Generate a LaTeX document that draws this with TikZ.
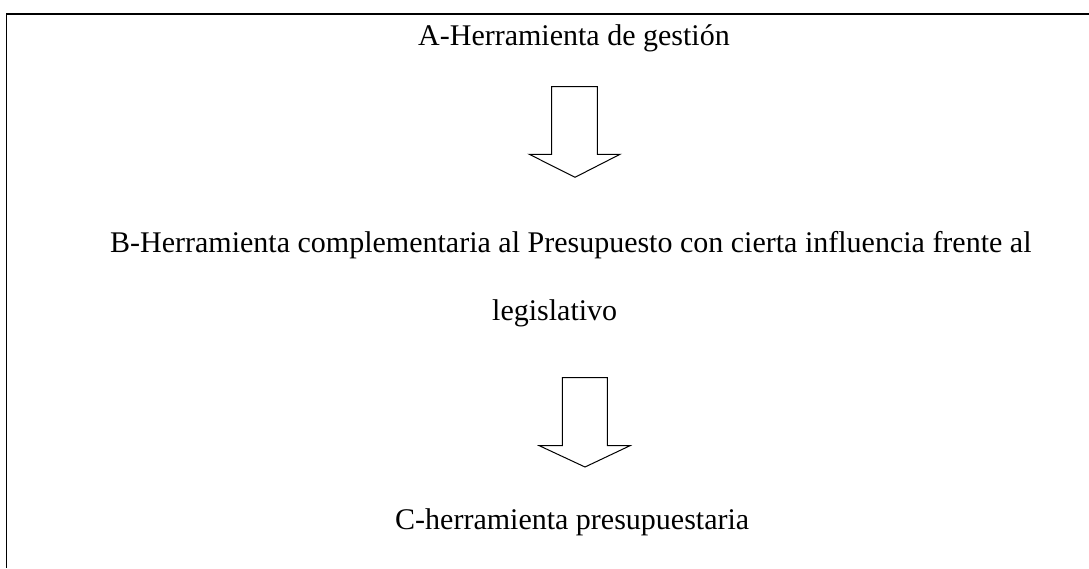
\documentclass[tikz,border=0pt]{standalone}
\usepackage{fontspec}
\setmainfont{Liberation Serif}
\begin{document}
\begin{tikzpicture}[x=1pt,y=-1pt,
  lbl/.style={anchor=base west,inner sep=0pt,font=\fontsize{30}{36}\selectfont},
  blockarrow/.style={draw=black,line width=1pt,line join=miter,fill=white},
  frame/.style={draw=black,line width=1.3pt}]
\useasboundingbox (0,0) rectangle (1089,568);
\draw[frame] (1089,14) -- (6.5,14) -- (6.5,568);
\node[lbl] (a) at (418,45) {A-Herramienta de gestión};
\node[lbl] (b) at (110,252) {B-Herramienta complementaria al Presupuesto con cierta influencia frente al};
\node[lbl] (b2) at (492,320) {legislativo};
\node[lbl] (c) at (395,529) {C-herramienta presupuestaria};
\draw[blockarrow] (551.7,86.7) -- (597.3,86.7) -- (597.3,154.3) -- (620,154.3) -- (575,177.3) -- (529.3,154.3) -- (551.7,154.3) -- cycle;
\draw[blockarrow] (562.3,377.7) -- (607.3,377.7) -- (607.3,445.7) -- (630,445.7) -- (585,467) -- (539.3,445.7) -- (562.3,445.7) -- cycle;
\end{tikzpicture}
\end{document}
